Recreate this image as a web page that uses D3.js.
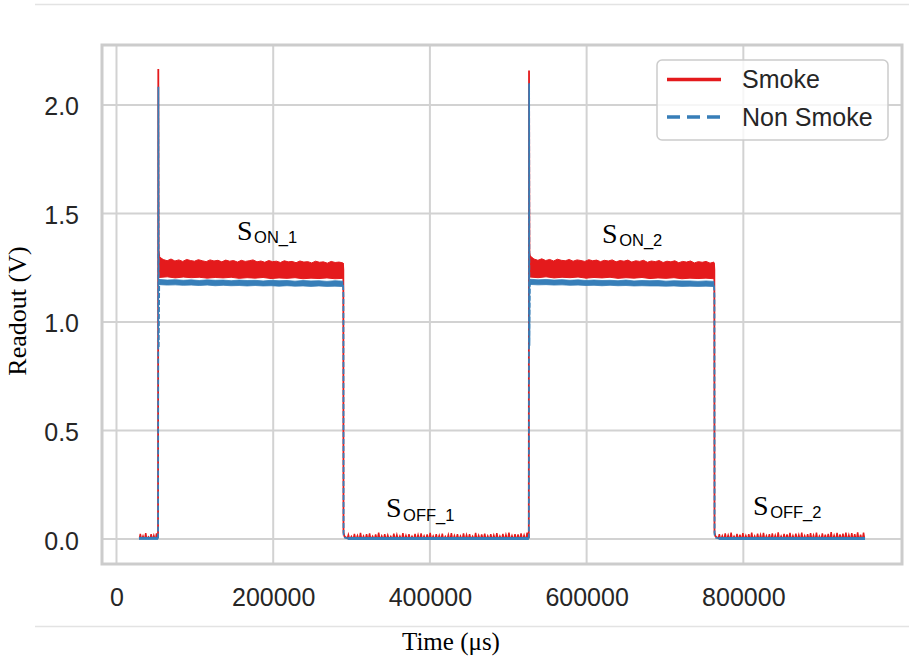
<!DOCTYPE html>
<html>
<head>
<meta charset="utf-8">
<script src="https://cdn.jsdelivr.net/npm/d3@7"></script>
<style>
  body { margin: 0; background: #fff; }
  svg { display: block; }
</style>
</head>
<body>
<svg id="chart" width="909" height="658"></svg>
<script>
/* DATA (time in µs, readout in V) */
const xTicks = [0, 200000, 400000, 600000, 800000];
const yTicks = [0, 0.5, 1.0, 1.5, 2.0];

// sharp edges of the smoke trace
const smokeRise1 = [[53000, 0.004], [53350, 2.166], [53800, 1.33], [54600, 1.30]];
const smokeFall1 = [[289000, 1.272], [289500, 1.24], [289700, 0.03], [291000, 0.012], [294000, 0.005]];
const smokeRise2 = [[526200, 0.004], [526500, 2.158], [527000, 1.32], [527800, 1.30]];
const smokeFall2 = [[762500, 1.271], [763000, 1.24], [763200, 0.03], [764500, 0.012], [767500, 0.005]];

// sharp edges of the non smoke trace
const nonSmokeRise1 = [[53100, 0.003], [53450, 2.084], [53900, 0.88], [54500, 1.17], [55200, 1.18]];
const nonSmokeFall1 = [[289200, 1.17], [289600, 1.12], [289800, 0.02], [291500, 0.006], [295000, 0.003]];
const nonSmokeRise2 = [[526300, 0.003], [526600, 2.10], [527000, 0.89], [527600, 1.17], [528200, 1.18]];
const nonSmokeFall2 = [[762600, 1.168], [763100, 1.12], [763300, 0.02], [765000, 0.006], [768500, 0.003]];

// low (LED off) parts
const nonSmokeLow1 = [[28700, 0.003], [53100, 0.003]];
const nonSmokeLow2 = [[295000, 0.003], [410000, 0.002], [526300, 0.003]];
const nonSmokeLow3 = [[768500, 0.003], [860000, 0.002], [955300, 0.003]];

const smokeLowBase = 0.004;
const smokeLowSpans = [[28700, 52800], [294000, 526000], [767500, 955300]];
const smokeLowSpikes1 = [0.024, 0.014, 0.027, 0.010, 0.022, 0.017, 0.026];
const smokeLowSpikes2 = [0.020, 0.012, 0.024, 0.016, 0.028, 0.014, 0.022, 0.026, 0.013, 0.021,
  0.029, 0.015, 0.023, 0.018, 0.012, 0.025, 0.020, 0.014, 0.027, 0.017,
  0.022, 0.013, 0.024, 0.019, 0.026, 0.015, 0.021, 0.028, 0.014, 0.023,
  0.017, 0.025, 0.012, 0.020, 0.027, 0.016, 0.022, 0.014, 0.026, 0.019,
  0.023, 0.013, 0.028, 0.017, 0.021, 0.025, 0.015, 0.022, 0.018, 0.027,
  0.014, 0.024, 0.020, 0.029, 0.016, 0.023, 0.021, 0.026, 0.018, 0.030];
const smokeLowSpikes3 = [0.022, 0.015, 0.026, 0.018, 0.029, 0.013, 0.024, 0.020, 0.027, 0.016,
  0.023, 0.030, 0.014, 0.025, 0.019, 0.028, 0.015, 0.022, 0.026, 0.017,
  0.031, 0.014, 0.024, 0.021, 0.028, 0.016, 0.025, 0.019, 0.029, 0.015,
  0.023, 0.027, 0.018, 0.030, 0.014, 0.026, 0.020, 0.024, 0.032, 0.017,
  0.028, 0.021, 0.025, 0.030, 0.019, 0.027, 0.023, 0.031, 0.020, 0.029];

// high (LED on) parts: noisy bands, upper and lower envelopes
const plateauSpans = [[54600, 289000], [527800, 762500]];
const smokeTop1 = [1.300, 1.288, 1.282, 1.290, 1.281, 1.286, 1.279, 1.288, 1.283, 1.280,
  1.287, 1.282, 1.278, 1.286, 1.281, 1.284, 1.277, 1.285, 1.280, 1.283,
  1.276, 1.284, 1.279, 1.282, 1.286, 1.277, 1.281, 1.275, 1.283, 1.278,
  1.280, 1.274, 1.282, 1.277, 1.279, 1.273, 1.281, 1.276, 1.278, 1.272,
  1.280, 1.275, 1.277, 1.271, 1.279, 1.274, 1.276, 1.272];
const smokeBottom1 = [1.205, 1.208, 1.203, 1.207, 1.204, 1.206, 1.202, 1.205, 1.203, 1.206,
  1.201, 1.204, 1.202, 1.205, 1.200, 1.203, 1.201, 1.204, 1.199, 1.202,
  1.200, 1.203, 1.199, 1.201];
const smokeTop2 = [1.305, 1.290, 1.284, 1.291, 1.283, 1.288, 1.281, 1.289, 1.284, 1.282,
  1.288, 1.280, 1.286, 1.283, 1.279, 1.287, 1.282, 1.285, 1.278, 1.284,
  1.281, 1.286, 1.277, 1.283, 1.280, 1.285, 1.276, 1.282, 1.279, 1.284,
  1.275, 1.281, 1.278, 1.283, 1.274, 1.280, 1.277, 1.282, 1.273, 1.279,
  1.276, 1.281, 1.272, 1.278, 1.275, 1.279, 1.271, 1.276];
const smokeBottom2 = [1.207, 1.204, 1.208, 1.203, 1.206, 1.204, 1.207, 1.202, 1.205, 1.203,
  1.206, 1.201, 1.204, 1.202, 1.205, 1.200, 1.203, 1.201, 1.204, 1.199,
  1.202, 1.200, 1.202, 1.199];
const nonSmokeTop1 = [1.196, 1.193, 1.195, 1.192, 1.194, 1.191, 1.194, 1.192, 1.193, 1.190,
  1.193, 1.191, 1.192, 1.189, 1.192, 1.190, 1.191, 1.188, 1.191, 1.189,
  1.190, 1.187, 1.190, 1.188];
const nonSmokeBottom1 = [1.172, 1.170, 1.171, 1.169, 1.170, 1.168, 1.170, 1.167, 1.169, 1.167,
  1.168, 1.166, 1.168, 1.166, 1.167, 1.165, 1.167, 1.165, 1.166, 1.164,
  1.166, 1.164, 1.165, 1.163];
const nonSmokeTop2 = [1.197, 1.194, 1.196, 1.193, 1.195, 1.192, 1.194, 1.191, 1.193, 1.191,
  1.192, 1.190, 1.193, 1.189, 1.191, 1.190, 1.191, 1.188, 1.190, 1.189,
  1.189, 1.187, 1.189, 1.187];
const nonSmokeBottom2 = [1.173, 1.171, 1.172, 1.170, 1.171, 1.169, 1.170, 1.168, 1.169, 1.167,
  1.169, 1.167, 1.168, 1.166, 1.167, 1.166, 1.166, 1.165, 1.166, 1.164,
  1.165, 1.164, 1.165, 1.163];

// annotation labels
const labels = [
  {t: 153800, v: 1.378, sub: "ON_1"},
  {t: 619700, v: 1.364, sub: "ON_2"},
  {t: 344000, v: 0.101, sub: "OFF_1"},
  {t: 812400, v: 0.111, sub: "OFF_2"}
];

const seriesNames = ["Smoke", "Non Smoke"];
const red = "#e41a1c", blue = "#377eb8";

/* LAYOUT */
const width = 909, height = 658;
const margin = {top: 45, right: 7, bottom: 94, left: 102};
const sans = "'Liberation Sans', Arial, Helvetica, sans-serif";
const serif = "'Liberation Serif', 'Times New Roman', Times, serif";

const svg = d3.select("#chart");

// page rules above and below the figure
svg.append("line").attr("x1", 35).attr("x2", width).attr("y1", 4.5).attr("y2", 4.5)
  .attr("stroke", "#e3e3e3").attr("stroke-width", 1.5);
svg.append("line").attr("x1", 35).attr("x2", width).attr("y1", 626.5).attr("y2", 626.5)
  .attr("stroke", "#e3e3e3").attr("stroke-width", 1.5);

/* SCALES */
const xScale = d3.scaleLinear()
  .domain([-18500, 1002500])
  .range([margin.left, width - margin.right]);

const yScale = d3.scaleLinear()
  .domain([-0.115, 2.276])
  .range([height - margin.bottom, margin.top]);

// GRID
svg.append("g").selectAll("line")
  .data(xTicks)
  .join("line")
  .attr("x1", d => xScale(d)).attr("x2", d => xScale(d))
  .attr("y1", margin.top).attr("y2", height - margin.bottom)
  .attr("stroke", "#d2d2d2").attr("stroke-width", 2);

svg.append("g").selectAll("line")
  .data(yTicks)
  .join("line")
  .attr("x1", margin.left).attr("x2", width - margin.right)
  .attr("y1", d => yScale(d)).attr("y2", d => yScale(d))
  .attr("stroke", "#d2d2d2").attr("stroke-width", 2);

// AXES
const xAxis = svg.append("g")
  .attr("transform", `translate(0, ${height - margin.bottom})`)
  .call(d3.axisBottom(xScale).tickValues(xTicks).tickFormat(d3.format("d")).tickSize(0).tickPadding(24));
const yAxis = svg.append("g")
  .attr("transform", `translate(${margin.left}, 0)`)
  .call(d3.axisLeft(yScale).tickValues(yTicks).tickFormat(d3.format(".1f")).tickSize(0).tickPadding(23));
[xAxis, yAxis].forEach(g => {
  g.select(".domain").remove();
  g.selectAll("text")
    .attr("font-family", sans)
    .attr("font-size", 25)
    .attr("fill", "#262626");
});
yAxis.selectAll("text").attr("dy", "0.4em");

// AXIS LABELS
svg.append("text")
  .attr("x", 451).attr("y", 650)
  .attr("text-anchor", "middle")
  .attr("font-family", serif).attr("font-size", 25)
  .attr("fill", "#000")
  .text("Time (μs)");

svg.append("text")
  .attr("transform", `translate(26, 311) rotate(-90)`)
  .attr("text-anchor", "middle")
  .attr("font-family", serif).attr("font-size", 26)
  .attr("fill", "#000")
  .text("Readout (V)");

/* LINES */
svg.append("clipPath").attr("id", "plot-clip")
  .append("rect")
  .attr("x", margin.left).attr("y", margin.top)
  .attr("width", width - margin.left - margin.right)
  .attr("height", height - margin.top - margin.bottom);

const plot = svg.append("g").attr("clip-path", "url(#plot-clip)");

const line = d3.line().x(d => xScale(d[0])).y(d => yScale(d[1]));
const closed = d3.line().x(d => xScale(d[0])).y(d => yScale(d[1])).curve(d3.curveLinearClosed);

// spread envelope values evenly over a time span
const spread = (values, span) => values.map((v, i) => [span[0] + (span[1] - span[0]) * i / (values.length - 1), v]);

// spikes of the noisy low level
const spikes = (values, span, base) => {
  const step = (span[1] - span[0]) / values.length;
  const pts = [[span[0], base]];
  values.forEach((v, i) => {
    const tc = span[0] + step * (i + 0.5);
    pts.push([tc - step * 0.3, base], [tc, v], [tc + step * 0.3, base]);
  });
  pts.push([span[1], base]);
  return pts;
};

const band = (top, bottom, span) => spread(top, span).concat(spread(bottom, span).reverse());

// SMOKE
[[smokeLowSpikes1, smokeLowSpans[0]], [smokeLowSpikes2, smokeLowSpans[1]], [smokeLowSpikes3, smokeLowSpans[2]]]
  .forEach(([vals, span]) => {
    plot.append("path")
      .attr("d", line(spikes(vals, span, smokeLowBase)))
      .attr("fill", "none").attr("stroke", red).attr("stroke-width", 1.5);
  });

[[smokeTop1, smokeBottom1, plateauSpans[0]], [smokeTop2, smokeBottom2, plateauSpans[1]]]
  .forEach(([top, bottom, span]) => {
    plot.append("path")
      .attr("d", closed(band(top, bottom, span)))
      .attr("fill", red).attr("stroke", red).attr("stroke-width", 1);
  });

[smokeRise1, smokeFall1, smokeRise2, smokeFall2].forEach(pts => {
  plot.append("path")
    .attr("d", line(pts))
    .attr("fill", "none").attr("stroke", red).attr("stroke-width", 1.8);
});

// NON SMOKE
[nonSmokeLow1, nonSmokeLow2, nonSmokeLow3].forEach(pts => {
  plot.append("path")
    .attr("d", line(pts))
    .attr("fill", "none").attr("stroke", blue).attr("stroke-width", 3);
});

[[nonSmokeTop1, nonSmokeBottom1, plateauSpans[0]], [nonSmokeTop2, nonSmokeBottom2, plateauSpans[1]]]
  .forEach(([top, bottom, span]) => {
    plot.append("path")
      .attr("d", closed(band(top, bottom, span)))
      .attr("fill", blue).attr("stroke", blue).attr("stroke-width", 0.8);
  });

[nonSmokeRise1, nonSmokeFall1, nonSmokeRise2, nonSmokeFall2].forEach(pts => {
  plot.append("path")
    .attr("d", line(pts))
    .attr("fill", "none").attr("stroke", blue).attr("stroke-width", 1.8)
    .attr("stroke-dasharray", "5,2");
});

// FRAME
svg.append("rect")
  .attr("x", margin.left).attr("y", margin.top)
  .attr("width", width - margin.left - margin.right)
  .attr("height", height - margin.top - margin.bottom)
  .attr("fill", "none").attr("stroke", "#cccccc").attr("stroke-width", 3);

/* ANNOTATIONS */
const ann = svg.append("g").selectAll("text")
  .data(labels)
  .join("text")
  .attr("x", d => xScale(d.t))
  .attr("y", d => yScale(d.v))
  .attr("fill", "#000");
ann.append("tspan")
  .attr("font-family", serif).attr("font-size", 28)
  .text("S");
ann.append("tspan")
  .attr("font-family", sans).attr("font-size", 16.5)
  .attr("dx", 1.5).attr("dy", 3.5)
  .text(d => d.sub);

/* LEGEND */
const legend = svg.append("g").attr("transform", "translate(657, 60)");
legend.append("rect")
  .attr("width", 231).attr("height", 80)
  .attr("rx", 5)
  .attr("fill", "#fff").attr("fill-opacity", 0.8)
  .attr("stroke", "#cccccc").attr("stroke-width", 1.5);

const legendItems = legend.selectAll("g.item")
  .data(seriesNames)
  .join("g")
  .attr("class", "item")
  .attr("transform", (d, i) => `translate(0, ${19.5 + i * 37.5})`);

legendItems.append("line")
  .attr("x1", 10).attr("x2", 64)
  .attr("stroke", (d, i) => i === 0 ? red : blue)
  .attr("stroke-width", 3.5)
  .attr("stroke-dasharray", (d, i) => i === 0 ? null : "13,7");

legendItems.append("text")
  .attr("x", 85).attr("y", 8.7)
  .attr("font-family", sans).attr("font-size", 25)
  .attr("fill", "#262626")
  .text(d => d);
</script>
</body>
</html>
